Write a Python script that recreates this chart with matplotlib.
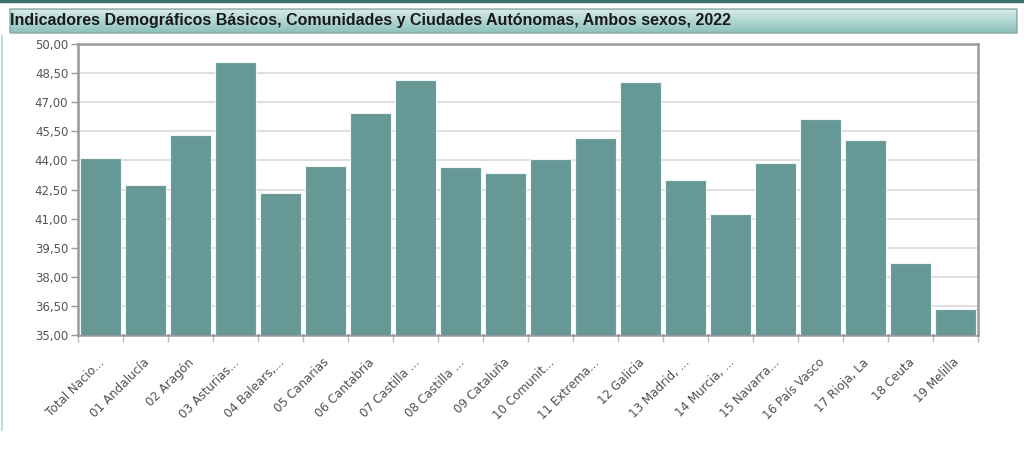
import numpy as np
import matplotlib
matplotlib.use('Agg')
import matplotlib.pyplot as plt
from matplotlib.patches import FancyBboxPatch
from matplotlib.ticker import FuncFormatter, FixedLocator

titulo = 'Indicadores Demográficos Básicos, Comunidades y Ciudades Autónomas, Ambos sexos, 2022'
etiquetas = ['Total Nacio...', '01 Andalucía', '02 Aragón', '03 Asturias...', '04 Balears,...',
             '05 Canarias', '06 Cantabria', '07 Castilla ...', '08 Castilla ...', '09 Cataluña',
             '10 Comunit...', '11 Extrema...', '12 Galicia', '13 Madrid, ...', '14 Murcia, ...',
             '15 Navarra...', '16 País Vasco', '17 Rioja, La', '18 Ceuta', '19 Melilla']
valores = [44.11, 42.73, 45.31, 49.09, 42.30, 43.70, 46.44, 48.14, 43.68, 43.33,
           44.07, 45.15, 48.03, 43.01, 41.24, 43.85, 46.12, 45.04, 38.70, 36.32]
marcas_y = [35.0, 36.5, 38.0, 39.5, 41.0, 42.5, 44.0, 45.5, 47.0, 48.5, 50.0]

W, H = 1024, 454
fig = plt.figure(figsize=(W / 100, H / 100), dpi=100)
fig.patch.set_facecolor('white')

# linea superior y borde izquierdo
fig.add_artist(plt.Line2D([0, 1], [1 - 1 / H, 1 - 1 / H], color='#3e6e69', lw=2.5,
                          transform=fig.transFigure))
fig.add_artist(plt.Line2D([2 / W, 2 / W], [1 - 36 / H, 1 - 430 / H], color='#bfdcdc', lw=1.5,
                          transform=fig.transFigure))

# banda del titulo con degradado
bx, by, bw, bh = 7 / W, 1 - 34 / H, 1013 / W, 26 / H
bax = fig.add_axes([bx, by, bw, bh])
grad = np.linspace(0, 1, 50).reshape(-1, 1)
c_top = np.array([0.86, 0.93, 0.92])
c_bot = np.array([0.53, 0.75, 0.72])
img = c_top[None, None, :] * (1 - grad[:, :, None]) + c_bot[None, None, :] * grad[:, :, None]
im = bax.imshow(img, aspect='auto', extent=[0, 1, 0, 1])
clip = FancyBboxPatch((0.003, 0.04), 0.994, 0.92, boxstyle='round,pad=0,rounding_size=0.004',
                      transform=bax.transAxes, facecolor='none', edgecolor='#86a5a2', lw=1)
bax.add_patch(clip)
im.set_clip_path(clip)
bax.set_xlim(0, 1)
bax.set_ylim(0, 1)
bax.axis('off')
bax.text(0.003, 0.5, titulo, fontsize=11.5, fontweight='bold', color='#1a1a1a',
         family='Liberation Sans', va='center', ha='left')

# grafico de barras
ax = fig.add_axes([78 / W, 1 - 335 / H, 900 / W, 291 / H])
x = np.arange(len(valores))
ax.bar(x, valores, width=0.9, color='#669996', edgecolor='#eef5f4', linewidth=0.8, zorder=3)
ax.set_xlim(-0.5, len(valores) - 0.5)
ax.set_ylim(35, 50)
ax.yaxis.set_major_locator(FixedLocator(marcas_y))
ax.yaxis.set_major_formatter(FuncFormatter(lambda v, p: f'{v:.2f}'.replace('.', ',')))
ax.grid(axis='y', color='#d9d9d9', lw=1.2, zorder=0)
ax.set_axisbelow(True)

ax.set_xticks(np.arange(len(valores) + 1) - 0.5)
ax.set_xticklabels([])
ax.set_xticks(x - 0.06, minor=True)
ax.set_xticklabels(etiquetas, minor=True, rotation=45, ha='right', rotation_mode='anchor',
                   fontsize=8.6, color='#505050')
ax.tick_params(axis='x', which='minor', length=0, pad=15)
ax.tick_params(axis='x', which='major', length=5, color='#bbbbbb', width=1)
ax.tick_params(axis='y', length=5, color='#999999', width=1, labelsize=8.5, labelcolor='#555555', pad=2)

for s in ax.spines.values():
    s.set_color('#999999')
    s.set_linewidth(1.8)

fig.savefig('out.png', dpi=100, facecolor='white')
